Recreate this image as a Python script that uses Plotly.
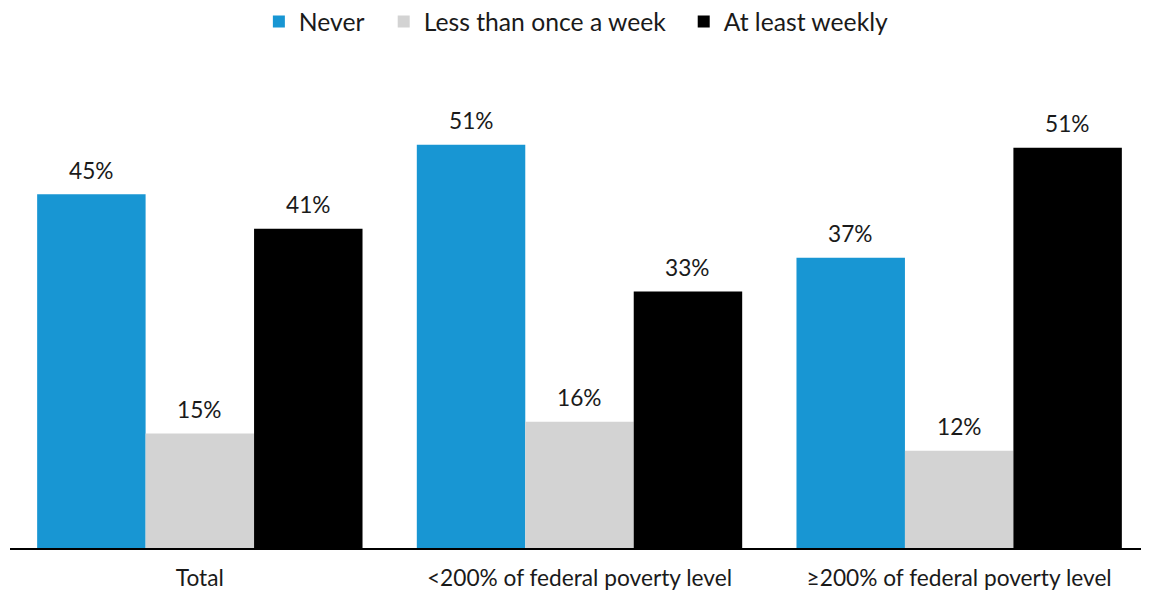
import plotly.graph_objects as go

categories = ["Total", "<200% of federal poverty level", "≥200% of federal poverty level"]
series_names = ["Never", "Less than once a week", "At least weekly"]
never = [45.1, 51.4, 37.0]
less_weekly = [14.6, 16.1, 12.4]
weekly = [40.7, 32.7, 51.0]
never_labels = ["45%", "51%", "37%"]
less_labels = ["15%", "16%", "12%"]
weekly_labels = ["41%", "33%", "51%"]
colors = ["#1896d3", "#d3d3d3", "#000000"]

W, H = 1141, 585
L, R, T, B = 2, 0, 92, 45
BARGAP = 0.143
plot_w = W - L - R
bar_w = plot_w / len(categories) * (1 - BARGAP) / len(series_names)
legend_x = [0.2185, 0.3281, 0.5915]
legend_ids = ["legend", "legend2", "legend3"]

fig = go.Figure()
annotations = []
for i, (name, vals, labels, col) in enumerate(zip(series_names, [never, less_weekly, weekly],
                                   [never_labels, less_labels, weekly_labels], colors)):
    fig.add_trace(go.Bar(
        x=categories, y=vals, name=name, marker_color=col, marker_line_width=0,
        legend=legend_ids[i],
    ))
    for c, v, lab in zip(categories, vals, labels):
        annotations.append(dict(
            x=c, y=v, xref="x", yref="y", text=lab, showarrow=False,
            xanchor="center", yanchor="middle",
            xshift=(i - 1) * bar_w, yshift=24,
            font=dict(family="Lato", size=22.7, color="#1a1a1a"),
        ))

legend_common = dict(orientation="h", y=1.174, yanchor="middle", xanchor="left",
                     font=dict(size=24.7), itemwidth=30, bgcolor="rgba(0,0,0,0)")
fig.update_layout(
    width=W, height=H,
    barmode="group", bargap=BARGAP, bargroupgap=0,
    plot_bgcolor="white", paper_bgcolor="white",
    margin=dict(l=L, r=R, t=T, b=B, autoexpand=False),
    font=dict(family="Lato", size=22.7, color="#1a1a1a"),
    legend=dict(x=legend_x[0], **legend_common),
    legend2=dict(x=legend_x[1], **legend_common),
    legend3=dict(x=legend_x[2], **legend_common),
    showlegend=True,
    annotations=annotations,
)
fig.update_xaxes(showline=True, linecolor="#000000", linewidth=2, ticks="",
                 tickfont=dict(size=22.7), ticklabelstandoff=9)
fig.update_yaxes(range=[0, 57.1], visible=False, showgrid=False, zeroline=False)

fig.write_html("out.html")
